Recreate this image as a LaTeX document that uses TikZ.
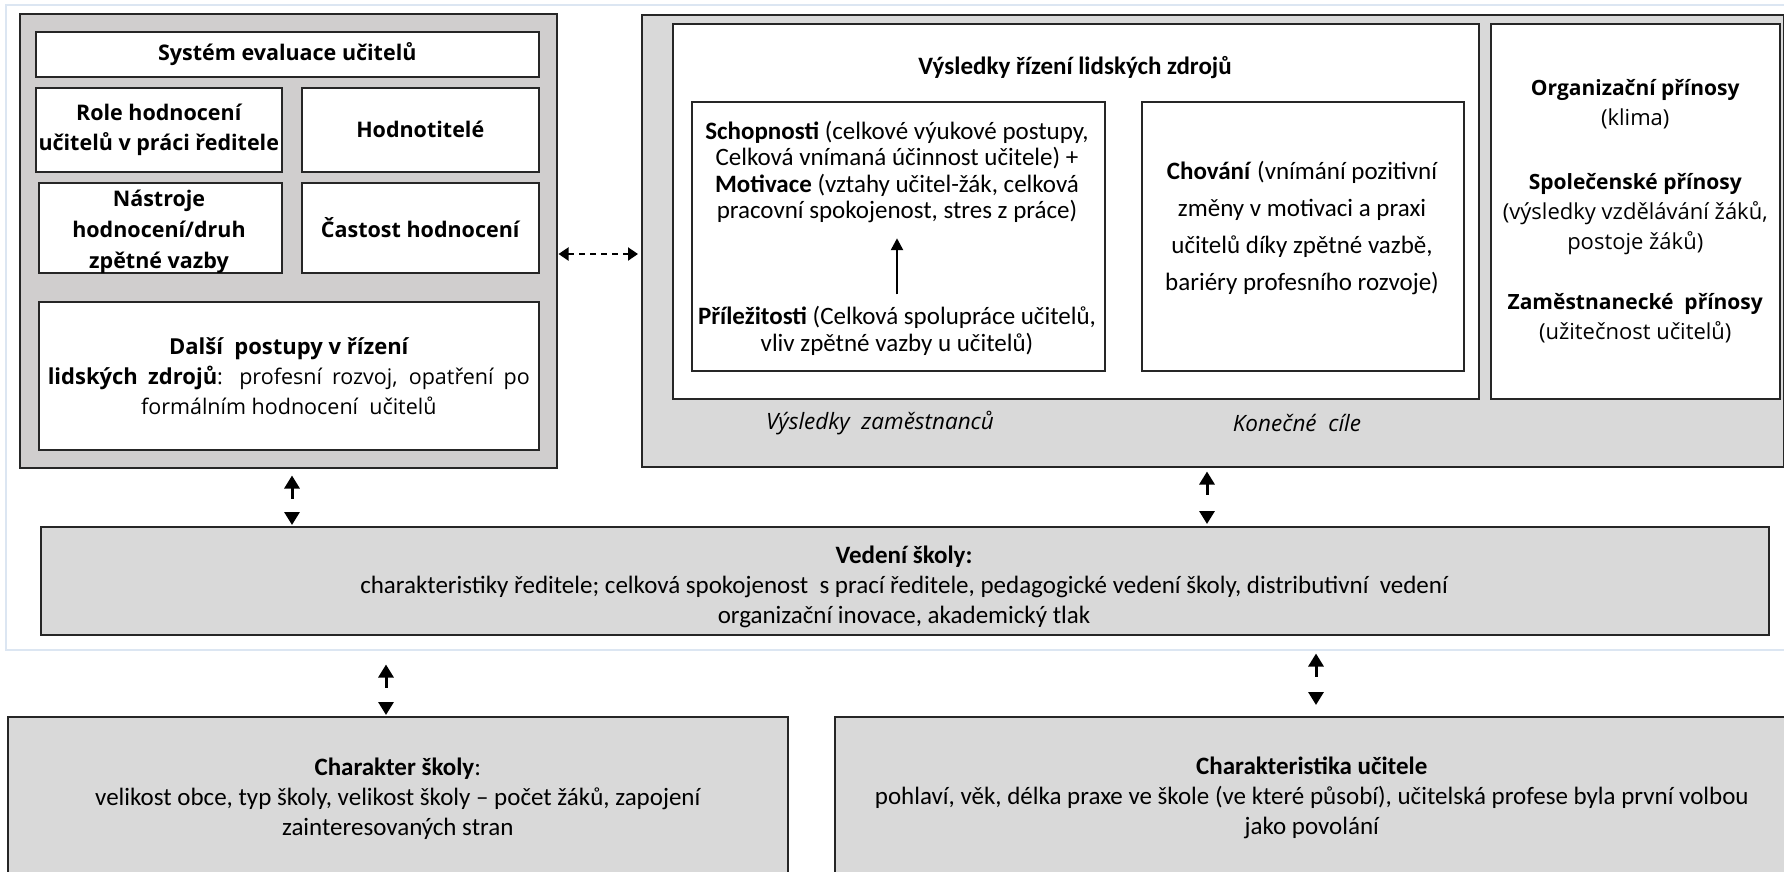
\documentclass[tikz,border=0pt]{standalone}
\usepackage{fontspec}
\setmainfont{Carlito}
\newfontfamily\segoe{Open Sans}
\usetikzlibrary{arrows.meta}

\definecolor{framec}{HTML}{DCE6F2}
\definecolor{greyl}{HTML}{D0CECE}
\definecolor{greyr}{HTML}{D9D9D9}
\definecolor{linec}{HTML}{262626}

% bold words inside the Segoe-like boxes
\newcommand\segb[2]{{\fontsize{#1}{30}\selectfont\bfseries #2}}

\begin{document}
\begin{tikzpicture}[x=1pt, y=-1pt,
	panel/.style 2 args={draw=linec, line width=1.5pt, fill=white, inner sep=0pt, anchor=north west, minimum width=#1pt, minimum height=#2pt, align=center},
	calfont/.style={font=\fontsize{25}{30}\selectfont, align=center, inner sep=0pt},
	calbold/.style={font=\bfseries\fontsize{25}{30}\selectfont, align=center},
	amofont/.style={font=\fontsize{25}{26.5}\selectfont, align=center, inner sep=0pt},
	behfont/.style={font=\fontsize{25}{37}\selectfont, align=center, inner sep=0pt},
	segfont/.style={font=\segoe\fontsize{22}{30}\selectfont, align=center},
	segbold/.style={font=\segoe\bfseries\fontsize{21.5}{30}\selectfont, align=center},
	segital/.style={font=\segoe\itshape\fontsize{22.5}{30}\selectfont, align=center},
	bidir/.style={{Triangle[length=13pt,width=15pt]}-{Triangle[length=13pt,width=15pt]}, line width=3pt, dash pattern=on 11pt off 40pt},
	dasharrow/.style={{Triangle[length=10pt,width=13pt]}-{Triangle[length=10pt,width=13pt]}, line width=2pt, dash pattern=on 6pt off 5pt},
	uparrow/.style={-{Triangle[length=12pt,width=12pt]}, line width=2.5pt}
]
	% page and outer frame
	\useasboundingbox (0,0) rectangle (1784,871);
	\clip (0,0) rectangle (1784,871);
	\draw[framec, line width=1.5pt] (6,5) rectangle (1800,650);

	% left block: evaluation system
	\node[panel={537}{454}, fill=greyl] (evalsys) at (19,13) {};
	\node[panel={503}{45}, segbold] (system) at (35,31) {Systém evaluace učitelů};
	\node[panel={246}{84}, segbold] (role) at (35,87) {Role hodnocení\\učitelů v práci ředitele};
	\node[panel={237}{84}, segbold] (raters) at (301,87) {Hodnotitelé};
	\node[panel={243}{90}] (tools) at (38,182) {};
	\node[segbold, font=\segoe\bfseries\fontsize{21.5}{31}\selectfont, inner sep=0pt] (toolstxt) at (159,232) {Nástroje\\hodnocení/druh\\zpětné vazby};
	\node[panel={237}{90}, segbold] (freq) at (301,182) {Častost hodnocení};
	\node[panel={500}{148}, segfont, font=\segoe\fontsize{21.5}{30}\selectfont] (hrm) at (38,301) {\segb{22}{Další\ \ postupy v řízení}\\\makebox[482pt][s]{\segb{22}{lidských zdrojů}: profesní rozvoj, opatření po}\\formálním hodnocení\ \ učitelů};

	% right block: outcomes
	\node[panel={1142}{452}, fill=greyr] (outcomes) at (641,14) {};
	\node[panel={806}{375}] (hrres) at (672,23) {};
	\node[calbold] (hrtitle) at (1075,68) {Výsledky řízení lidských zdrojů};
	\node[panel={413}{269}] (ability) at (691,101) {};
	\node[amofont] (amo) at (897,172) {\textbf{Schopnosti} (celkové výukové postupy,\\Celková vnímaná účinnost učitele) +\\\textbf{Motivace} (vztahy učitel-žák, celková\\pracovní spokojenost, stres z práce)};
	\node[amofont] (opport) at (897,331) {\textbf{Příležitosti} (Celková spolupráce učitelů,\\vliv zpětné vazby u učitelů)};
	\draw[uparrow, shorten <=12pt, shorten >=15pt] (opport) -- (amo);
	\node[panel={322}{269}] (behav) at (1141,101) {};
	\node[behfont] (behavtxt) at (1302,228) {\textbf{Chování} (vnímání pozitivní\\změny v motivaci a praxi\\učitelů díky zpětné vazbě,\\bariéry profesního rozvoje)};
	\node[panel={289}{375}, segfont] (benefits) at (1490,23) {\segb{21}{Organizační přínosy}\\(klima)\\[34pt]\segb{21}{Společenské přínosy}\\(výsledky vzdělávání žáků,\\postoje žáků)\\[30pt]\segb{21}{Zaměstnanecké\ \ přínosy}\\(užitečnost učitelů)};
	\node[segital] (empres) at (880,423) {Výsledky\ \ zaměstnanců};
	\node[segital] (goals) at (1297,423) {Konečné\ \ cíle};

	% lower boxes
	\node[panel={1728}{108}, fill=greyr] (lead) at (40,526) {};
	\node[calfont] (leadtxt) at (904,587) {\textbf{Vedení školy:}\\charakteristiky ředitele; celková spokojenost\ \ s prací ředitele, pedagogické vedení školy, distributivní\ \ vedení\\organizační inovace, akademický tlak};
	\node[panel={780}{163}, fill=greyr, calfont] (school) at (7,716) {\textbf{Charakter školy}:\\velikost obce, typ školy, velikost školy – počet žáků, zapojení\\zainteresovaných stran};
	\node[panel={954}{163}, fill=greyr, calfont] (teacher) at (834,716) {\textbf{Charakteristika učitele}\\pohlaví, věk, délka praxe ve škole (ve které působí), učitelská profese byla první volbou\\jako povolání};

	% connectors
	\coordinate (mid) at (0,254);
	\draw[dasharrow, shorten <=1pt, shorten >=3pt] (evalsys.east |- mid) -- (outcomes.west |- mid);
	\coordinate (c1) at (292,0);
	\coordinate (c2) at (1207,0);
	\coordinate (c3) at (386,0);
	\coordinate (c4) at (1316,0);
	\draw[bidir, shorten <=7pt, shorten >=1pt] (evalsys.south -| c1) -- (lead.north -| c1);
	\draw[bidir, shorten <=4pt, shorten >=2pt] (outcomes.south -| c2) -- (lead.north -| c2);
	\draw[bidir, shorten <=29pt, shorten >=1pt] (lead.south -| c3) -- (school.north -| c3);
	\draw[bidir, shorten <=18pt, shorten >=11pt] (lead.south -| c4) -- (teacher.north -| c4);
\end{tikzpicture}
\end{document}
